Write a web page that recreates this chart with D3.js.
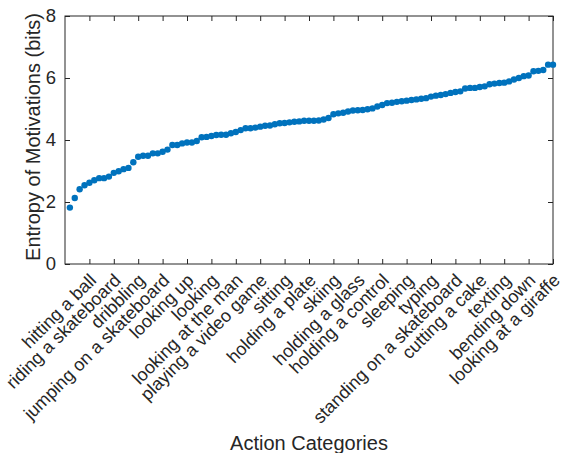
<!DOCTYPE html>
<html lang="en">

<head>
    <meta charset="UTF-8">
    <title>Entropy of Motivations</title>
    <script src="https://d3js.org/d3.v7.min.js"></script>
    <style>
        body {
            margin: 0;
            background: #fff;
        }

        svg {
            font-family: "Liberation Sans", Arial, Helvetica, sans-serif;
        }
    </style>
</head>

<body>
    <svg id="chart"></svg>

    <script>
        // every 5th category gets a label
        const tickLabels = ['hitting a ball', 'riding a skateboard', 'dribbling', 'jumping on a skateboard',
            'looking up', 'looking', 'looking at the man', 'playing a video game', 'sitting', 'holding a plate',
            'skiing', 'holding a glass', 'holding a control', 'sleeping', 'typing', 'standing on a skateboard',
            'cutting a cake', 'texting', 'bending down', 'looking at a giraffe'];
        const tickIndex = [5, 10, 15, 20, 25, 30, 35, 40, 45, 50, 55, 60, 65, 70, 75, 80, 85, 90, 95, 100];

        // entropy per action category (sorted)
        const entropy = [
            1.82, 2.13, 2.41, 2.54, 2.62, 2.70, 2.77, 2.77, 2.82, 2.94,
            2.99, 3.06, 3.10, 3.28, 3.46, 3.49, 3.49, 3.57, 3.57, 3.62,
            3.69, 3.84, 3.84, 3.89, 3.92, 3.92, 3.97, 4.09, 4.10, 4.13,
            4.16, 4.17, 4.17, 4.22, 4.26, 4.32, 4.38, 4.38, 4.40, 4.43,
            4.46, 4.47, 4.51, 4.54, 4.55, 4.57, 4.59, 4.60, 4.62, 4.62,
            4.62, 4.63, 4.66, 4.71, 4.83, 4.86, 4.88, 4.92, 4.95, 4.96,
            4.97, 4.99, 5.02, 5.08, 5.13, 5.19, 5.20, 5.23, 5.25, 5.27,
            5.29, 5.31, 5.33, 5.35, 5.40, 5.43, 5.45, 5.48, 5.52, 5.55,
            5.57, 5.66, 5.68, 5.68, 5.71, 5.73, 5.80, 5.82, 5.84, 5.85,
            5.89, 5.95, 6.00, 6.06, 6.08, 6.22, 6.23, 6.26, 6.43, 6.43
        ];
        const yTicks = [0, 2, 4, 6, 8];

        const W = 564, H = 453;
        const margin = { top: 16, right: 11, bottom: 189, left: 65 },
            width = W - margin.left - margin.right,
            height = H - margin.top - margin.bottom;
        const axisColor = '#262626';

        const svg = d3.select('#chart')
            .attr('width', W)
            .attr('height', H);

        const g = svg.append('g')
            .attr('transform', `translate(${margin.left},${margin.top})`);

        const x = d3.scaleLinear().domain([0, entropy.length]).range([0, width]);
        const y = d3.scaleLinear().domain([0, 8]).range([height, 0]);

        // box
        g.append('rect')
            .attr('width', width)
            .attr('height', height)
            .attr('fill', 'none')
            .attr('stroke', axisColor)
            .attr('stroke-width', 1);

        // bottom axis, ticks pointing inward
        const xAxis = g.append('g')
            .attr('transform', `translate(0,${height})`)
            .call(d3.axisBottom(x).tickValues(tickIndex).tickSize(-5).tickFormat(''));
        // mirrored ticks on top
        g.append('g')
            .call(d3.axisTop(x).tickValues(tickIndex).tickSize(-5).tickFormat(''));

        const yAxis = g.append('g')
            .call(d3.axisLeft(y).tickValues(yTicks).tickSize(-5).tickPadding(9));
        g.append('g')
            .attr('transform', `translate(${width},0)`)
            .call(d3.axisRight(y).tickValues(yTicks).tickSize(-5).tickFormat(''));

        g.selectAll('.domain').remove();
        g.selectAll('.tick line').attr('stroke', axisColor);
        yAxis.selectAll('text')
            .attr('fill', axisColor)
            .style('font-size', '18.5px');

        // rotated category labels
        xAxis.selectAll('.tick').each(function (d, i) {
            d3.select(this).append('text')
                .attr('transform', 'translate(3,13) rotate(-45)')
                .attr('text-anchor', 'end')
                .attr('dy', '0.35em')
                .attr('fill', axisColor)
                .style('font-size', '18px')
                .text(tickLabels[i]);
        });

        // points
        g.selectAll('circle')
            .data(entropy)
            .join('circle')
            .attr('cx', (d, i) => x(i + 1))
            .attr('cy', d => y(d))
            .attr('r', 3.2)
            .attr('fill', '#0072BD');

        svg.append('text')
            .attr('x', margin.left + width / 2)
            .attr('y', 450)
            .attr('text-anchor', 'middle')
            .attr('fill', axisColor)
            .style('font-size', '20px')
            .text('Action Categories');

        svg.append('text')
            .attr('transform', `translate(40,${margin.top + height / 2 - 3}) rotate(-90)`)
            .attr('text-anchor', 'middle')
            .attr('fill', axisColor)
            .style('font-size', '20px')
            .text('Entropy of Motivations (bits)');
    </script>
</body>

</html>
